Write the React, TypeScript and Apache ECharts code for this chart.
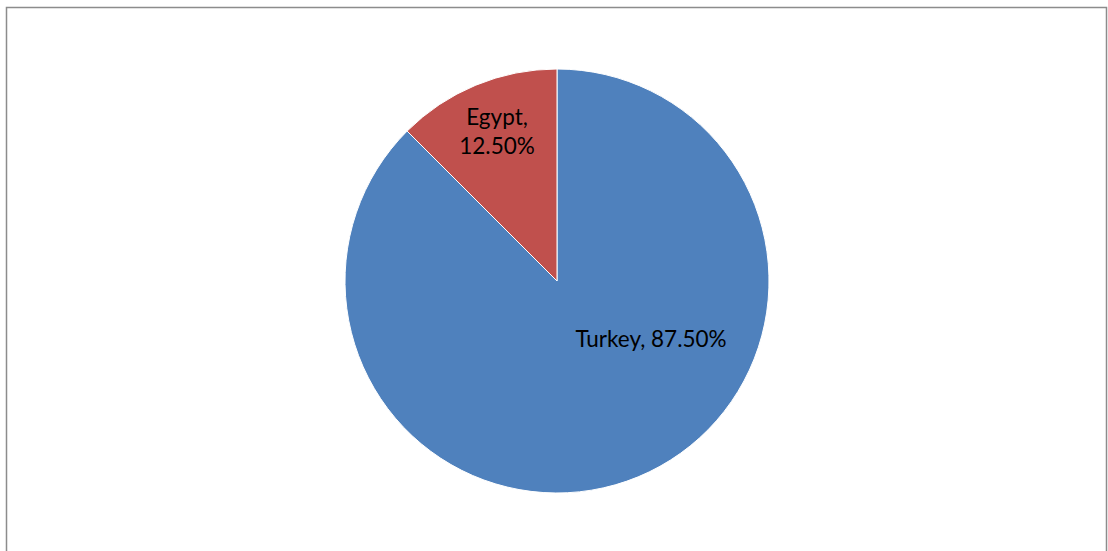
import React, { useEffect, useRef } from "react";
import * as echarts from "echarts";

const categories = ["Turkey", "Egypt"];
const values = [87.5, 12.5];
const colors = ["#4F81BD", "#C0504D"];
const labelPositions = [
  [651, 338],
  [497, 131],
];

export default function App() {
  const ref = useRef<HTMLDivElement>(null);
  useEffect(() => {
    if (!ref.current) return;
    const chart = echarts.init(ref.current, null, { renderer: "svg" });
    chart.setOption({
      animation: false,
      backgroundColor: "#ffffff",
      graphic: [
        {
          type: "rect",
          shape: { x: 6.5, y: 7.5, width: 1100, height: 600 },
          style: { fill: "none", stroke: "#8c8c8c", lineWidth: 1.5 },
          silent: true,
        },
      ],
      series: [
        {
          type: "pie",
          center: [557, 281],
          radius: 212,
          startAngle: 90,
          clockwise: true,
          data: categories.map((c, i) => ({
            name: c,
            value: values[i],
            itemStyle: { color: colors[i] },
          })),
          itemStyle: { borderColor: "#ffffff", borderWidth: 1 },
          label: {
            show: true,
            position: "inside",
            formatter: (p: any) =>
              p.dataIndex === 1
                ? `${p.name},\n${p.value.toFixed(2)}%`
                : `${p.name}, ${p.value.toFixed(2)}%`,
            fontFamily: "Lato, 'Open Sans', sans-serif",
            fontSize: 22.5,
            color: "#000000",
            lineHeight: 29,
            align: "center",
          },
          labelLine: { show: false },
          labelLayout: (p: any) => ({
            x: labelPositions[p.dataIndex][0],
            y: labelPositions[p.dataIndex][1],
            align: "center",
            verticalAlign: "middle",
          }),
        },
      ],
    });
    return () => chart.dispose();
  }, []);
  return (
    <div
      ref={ref}
      style={{ position: "fixed", left: 0, top: 0, width: 1108, height: 551 }}
    />
  );
}
